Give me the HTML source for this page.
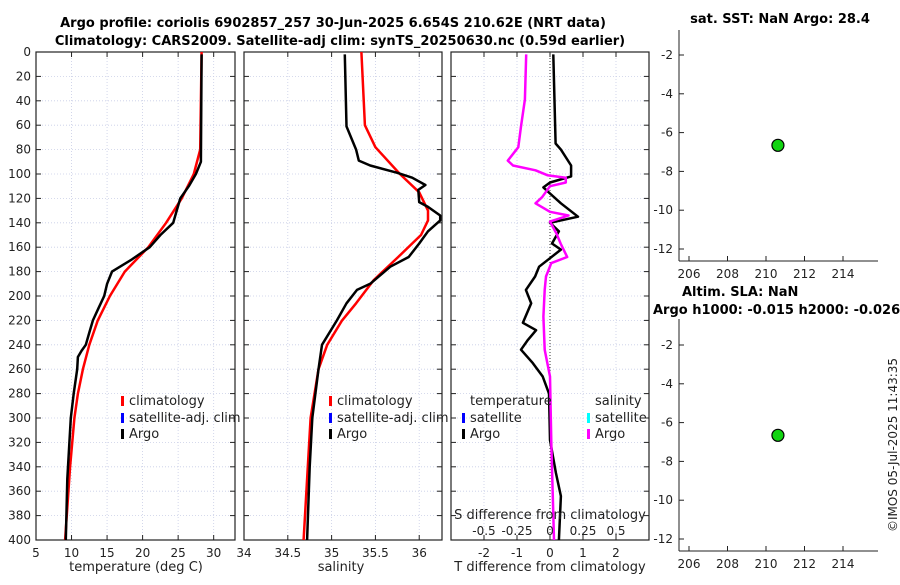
<!DOCTYPE html>
<html><head><meta charset="utf-8"><style>
body{margin:0;background:#fff;width:900px;height:580px;overflow:hidden}
svg{font-family:"DejaVu Sans","Liberation Sans",sans-serif;}
</style></head><body>
<svg id="fig" width="900" height="580" viewBox="0 0 900 580">
<text x="333" y="27" text-anchor="middle" font-weight="bold" font-size="13">Argo profile: coriolis 6902857_257 30-Jun-2025 6.654S 210.62E (NRT data)</text>
<text x="340" y="45" text-anchor="middle" font-weight="bold" font-size="13">Climatology: CARS2009. Satellite-adj clim: synTS_20250630.nc (0.59d earlier)</text>
<text x="780" y="23" text-anchor="middle" font-weight="bold" font-size="13">sat. SST: NaN Argo: 28.4</text>
<text x="682" y="296" font-weight="bold" font-size="13">Altim. SLA: NaN</text>
<text x="653" y="314" font-weight="bold" font-size="13">Argo h1000: -0.015 h2000: -0.026</text>
<text x="0" y="0" transform="translate(897,445) rotate(-90)" text-anchor="middle" font-size="12" fill="#222">©IMOS 05-Jul-2025 11:43:35</text>
</svg>
<script>
// ---- data ----
const depthTicks=[0,20,40,60,80,100,120,140,160,180,200,220,240,260,280,300,320,340,360,380,400];
const tempTicks=[5,10,15,20,25,30];
const salTicks=[34,34.5,35,35.5,36];
const tdiffTicks=[-2,-1,0,1,2];
const sdiffTicks=[-0.5,-0.25,0,0.25,0.5];
const sdiffTickLabels=["-0.5","-0.25","0","0.25","0.5"];
const mapLonTicks=[206,208,210,212,214];
const mapLatTicks=[-2,-4,-6,-8,-10,-12];

const tArgoDepth=[2,90,100,110,120,130,140,150,160,170,180,190,200,210,220,230,240,245,250,260,280,300,350,400];
const tArgo=[28.3,28.2,27.5,26.5,25.3,24.8,24.3,22.5,21.0,18.5,15.7,15.0,14.6,13.8,13.0,12.5,12.0,11.4,10.9,10.8,10.3,9.9,9.4,9.2];
const tClimDepth=[0,80,100,120,140,160,180,200,220,240,260,280,300,340,400];
const tClim=[28.3,28.1,27.2,25.5,23.3,20.8,17.5,15.4,13.7,12.5,11.6,10.9,10.4,9.8,9.1];

const sArgoDepth=[2,61,80,89,93,99,103,109,113,123,127,134,138,147,157,168,176,190,195,206,220,240,260,300,340,400];
const sArgo=[35.15,35.17,35.28,35.31,35.44,35.75,35.92,36.07,35.99,36.0,36.1,36.24,36.24,36.1,36.0,35.88,35.67,35.44,35.29,35.17,35.06,34.89,34.85,34.78,34.75,34.72];
const sClimDepth=[0,60,78,100,115,130,138,150,168,187,206,220,240,260,300,350,400];
const sClim=[35.34,35.38,35.5,35.78,36.0,36.1,36.1,36.02,35.76,35.48,35.28,35.12,34.95,34.85,34.76,34.72,34.68];

const dTDepth=[2,75,80,93,102,107,111,116,124,135,140,147,157,162,169,176,184,195,206,222,228,236,244,255,266,280,318,345,364,400];
const dT=[0.1,0.17,0.33,0.64,0.64,0,-0.2,0,0.33,0.85,0,0.27,0.06,0.33,0,-0.33,-0.45,-0.73,-0.57,-0.82,-0.42,-0.67,-0.88,-0.52,-0.22,-0.03,0,0.18,0.33,0.27];
const dSDepth=[2,39,61,78,89,93,97,101,103,107,110,119,124,131,134,139,149,157,168,173,184,195,217,244,266,320,400];
const dS=[-0.18,-0.19,-0.22,-0.24,-0.32,-0.28,-0.11,-0.02,0.12,0.12,0,-0.06,-0.11,0,0.14,0,0.05,0.08,0.13,0.01,-0.03,-0.04,-0.05,-0.04,0,0.01,0.03];

const floatLon=[210.62];
const floatLat=[-6.654];

// ---- helpers ----
const NS="http://www.w3.org/2000/svg";
const svg=document.getElementById('fig');
function mk(tag,attrs,parent){const e=document.createElementNS(NS,tag);for(const k in attrs)e.setAttribute(k,attrs[k]);(parent||svg).appendChild(e);return e;}
function lin(d0,d1,r0,r1){return v=>r0+(v-d0)/(d1-d0)*(r1-r0);}

const Y0=52,Y1=540;
const yDepth=lin(0,400,Y0,Y1);

function panel(name,x0,x1,xs,xticks,xlabels,showY){
  const g=mk('g',{});
  
  
  // grid
  xticks.forEach(t=>{const x=xs(t);const l=mk('line',{x1:x,x2:x,y1:Y0,y2:Y1,stroke:'#c8cde6','stroke-width':0.8,'stroke-dasharray':'1,2'},g);
    });
  depthTicks.forEach(t=>{const y=yDepth(t);const l=mk('line',{x1:x0,x2:x1,y1:y,y2:y,stroke:'#c8cde6','stroke-width':0.8,'stroke-dasharray':'1,2'},g);
    });
  // ticks
  depthTicks.forEach(t=>{const y=yDepth(t);
    mk('line',{x1:x0,x2:x0+5,y1:y,y2:y,stroke:'#222'},g);mk('line',{x1:x1,x2:x1-5,y1:y,y2:y,stroke:'#222'},g);
    if(showY){const tx=mk('text',{x:x0-5,y:y+4,'text-anchor':'end','font-size':12,fill:'#222'},g);tx.textContent=t;
      }
  });
  xticks.forEach((t,i)=>{const x=xs(t);
    mk('line',{x1:x,x2:x,y1:Y1,y2:Y1-5,stroke:'#222'},g);mk('line',{x1:x,x2:x,y1:Y0,y2:Y0+5,stroke:'#222'},g);
    if(xlabels){const tx=mk('text',{x:x,y:Y1+17,'text-anchor':'middle','font-size':12,fill:'#222'},g);tx.textContent=xlabels[i];
      }
  });
  const r=mk('rect',{x:x0,y:Y0,width:x1-x0,height:Y1-Y0,fill:'none',stroke:'#222','stroke-width':1.2},g);
  
  return g;
}
function line(g,name,xs,vals,depths,color,w){
  const pts=vals.map((v,i)=>xs(v).toFixed(1)+','+yDepth(depths[i]).toFixed(1)).join(' ');
  const p=mk('polyline',{points:pts,fill:'none',stroke:color,'stroke-width':w,'stroke-linejoin':'round'},g);
  
  
}
function txt(g,name,x,y,s,size,anchor){const t=mk('text',{x:x,y:y,'font-size':size||12,fill:'#222','text-anchor':anchor||'start'},g);t.textContent=s;
  
  return t;}
function legMark(g,x,y,color){const r=mk('rect',{x:x,y:y-9,width:3,height:10,fill:color},g);
  
  }

// ---- panel 1 temperature ----
const xT=lin(5,33,36,235);
const p1=panel('temperature-panel',36,235,xT,tempTicks,tempTicks.map(String),true);
line(p1,'temperature-climatology-line',xT,tClim,tClimDepth,'#f00',2.5);
line(p1,'temperature-argo-line',xT,tArgo,tArgoDepth,'#000',2.5);
txt(p1,'x-axis-title-temperature',136,571,'temperature (deg C)',13,'middle');
legMark(p1,121,405,'#f00');txt(p1,'legend-climatology',129,405,'climatology',13);
legMark(p1,121,422,'#00f');txt(p1,'legend-satellite-adj',129,422,'satellite-adj. clim',13);
legMark(p1,121,438,'#000');txt(p1,'legend-argo',129,438,'Argo',13);

// ---- panel 2 salinity ----
const xS=lin(34,36.26,244,442);
const p2=panel('salinity-panel',244,442,xS,salTicks,salTicks.map(String),false);
line(p2,'salinity-climatology-line',xS,sClim,sClimDepth,'#f00',2.5);
line(p2,'salinity-argo-line',xS,sArgo,sArgoDepth,'#000',2.5);
txt(p2,'x-axis-title-salinity',341,571,'salinity',13,'middle');
legMark(p2,329,405,'#f00');txt(p2,'legend-climatology-s',337,405,'climatology',13);
legMark(p2,329,422,'#00f');txt(p2,'legend-satellite-adj-s',337,422,'satellite-adj. clim',13);
legMark(p2,329,438,'#000');txt(p2,'legend-argo-s',337,438,'Argo',13);

// ---- panel 3 differences ----
const xD=lin(-3,3,451,649);
const xDS=lin(-0.75,0.75,451,649);
const p3=panel('difference-panel',451,649,xD,tdiffTicks,tdiffTicks.map(String),false);
const zl=mk('line',{x1:xD(0),x2:xD(0),y1:Y0,y2:Y1,stroke:'#333','stroke-dasharray':'1,2','stroke-width':1},p3);

line(p3,'temperature-difference-argo-line',xD,dT,dTDepth,'#000',2.5);
line(p3,'salinity-difference-argo-line',xDS,dS,dSDepth,'#f0f',2.5);
txt(p3,'x-axis-title-tdiff',550,571,'T difference from climatology',13,'middle');
txt(p3,'s-diff-axis-title',550,519,'S difference from climatology',13,'middle');
sdiffTicks.forEach((t,i)=>txt(p3,'s-diff-tick-label',xDS(t),535,sdiffTickLabels[i],12,'middle'));
txt(p3,'legend-temperature-header',470,405,'temperature',13);
legMark(p3,462,422,'#00f');txt(p3,'legend-t-satellite',470,422,'satellite',13);
legMark(p3,462,438,'#000');txt(p3,'legend-t-argo',470,438,'Argo',13);
txt(p3,'legend-salinity-header',595,405,'salinity',13);
legMark(p3,587,422,'#0ff');txt(p3,'legend-s-satellite',595,422,'satellite',13);
legMark(p3,587,438,'#f0f');txt(p3,'legend-s-argo',595,438,'Argo',13);

// ---- maps ----
function map(name,top,bot,yM2){
  const g=mk('g',{});
  
  
  const xs=lin(206,214,689,843);
  const ys=lin(-2,-12,yM2,yM2+194);
  mk('line',{x1:679,x2:679,y1:top,y2:bot,stroke:'#222'},g);
  mk('line',{x1:679,x2:878,y1:bot,y2:bot,stroke:'#222'},g);
  mapLatTicks.forEach(t=>{const y=ys(t);mk('line',{x1:679,x2:684,y1:y,y2:y,stroke:'#222'},g);
    txt(g,'lat-tick-label',673,y+4,String(t),12,'end');});
  mapLonTicks.forEach(t=>{const x=xs(t);mk('line',{x1:x,x2:x,y1:bot,y2:bot-5,stroke:'#222'},g);
    txt(g,'lon-tick-label',x,bot+17,String(t),12,'middle');});
  floatLon.forEach((lon,i)=>{const c=mk('circle',{cx:xs(lon),cy:ys(floatLat[i]),r:6,fill:'#11d411',stroke:'#000','stroke-width':1.2},g);
    
    });
}
map('sst-map',30,261,55);
map('sla-map',319,551,345);
</script>
</body></html>
